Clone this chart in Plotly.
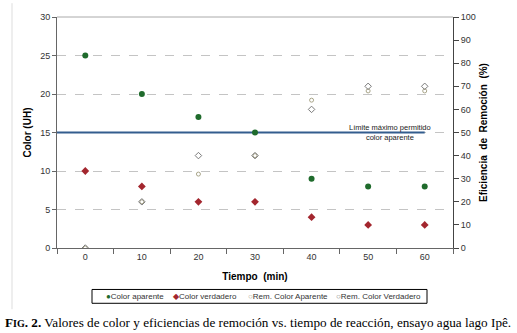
import plotly.graph_objects as go

# ---- data ----
tiempo = [0, 10, 20, 30, 40, 50, 60]
color_aparente = [25, 20, 17, 15, 9, 8, 8]
color_verdadero = [10, 8, 6, 6, 4, 3, 3]
rem_color_aparente = [0, 20, 32, 40, 64, 68, 68]
rem_color_verdadero = [0, 20, 40, 40, 60, 70, 70]
limite_x = [-5, 60]
limite_y = [15, 15]
x_ticks = [0, 10, 20, 30, 40, 50, 60]
y_ticks = [0, 5, 10, 15, 20, 25, 30]
y2_ticks = [0, 10, 20, 30, 40, 50, 60, 70, 80, 90, 100]

W, H = 517, 333
L, R, T, B = 57, 453, 14, 248


def px(x):
    return (x - L) / (R - L)


def py(y):
    return (B - y) / (B - T)


GREEN = "#1f6b2c"
RED = "#a3262e"
BLUE = "#335d8e"

fig = go.Figure()
fig.add_trace(go.Scatter(x=limite_x, y=limite_y, mode="lines",
                         line=dict(color=BLUE, width=2), showlegend=False,
                         hoverinfo="skip"))
fig.add_trace(go.Scatter(x=tiempo, y=color_aparente, mode="markers", name="Color aparente",
                         marker=dict(symbol="circle", size=6, color=GREEN)))
fig.add_trace(go.Scatter(x=tiempo, y=color_verdadero, mode="markers", name="Color verdadero",
                         marker=dict(symbol="diamond", size=6, color=RED)))
fig.add_trace(go.Scatter(x=tiempo, y=rem_color_aparente, mode="markers", name="Rem. Color Aparente",
                         yaxis="y2",
                         marker=dict(symbol="circle-open", size=4, color="#a8a488",
                                     line=dict(width=1))))
fig.add_trace(go.Scatter(x=tiempo, y=rem_color_verdadero, mode="markers", name="Rem. Color Verdadero",
                         yaxis="y2",
                         marker=dict(symbol="diamond-open", size=5, color="#7a7a7a",
                                     line=dict(width=1))))

tickfont = dict(family="Arial, Liberation Sans, sans-serif", size=9, color="#333")
titlefont = dict(family="Arial, Liberation Sans, sans-serif", size=10, color="#000")

fig.update_layout(
    width=W, height=H,
    margin=dict(l=L, r=W - R, t=T, b=H - B),
    paper_bgcolor="white", plot_bgcolor="white",
    showlegend=False,
    xaxis=dict(range=[-5, 65], tickvals=x_ticks, ticks="", showgrid=False, zeroline=False,
               showline=True, linecolor="#666", linewidth=1, tickfont=tickfont,
               minor=dict(tick0=5, dtick=10, ticks="outside", ticklen=5, tickcolor="#666",
                          showgrid=False),
               title=dict(text="<b>Tiempo  (min)</b>", font=titlefont, standoff=12)),
    yaxis=dict(range=[0, 30], tickvals=y_ticks, ticks="outside", ticklen=4, tickcolor="#666",
               showgrid=True, gridcolor="#c4c4c4", griddash="dash", gridwidth=1,
               zeroline=False, showline=True, linecolor="#666", tickfont=tickfont,
               title=dict(text="<b>Color (UH)</b>", font=titlefont, standoff=6)),
    yaxis2=dict(range=[0, 100], tickvals=y2_ticks, overlaying="y", side="right",
                ticks="outside", ticklen=5, tickcolor="#444", showgrid=False, zeroline=False,
                showline=True, linecolor="#444", tickfont=tickfont,
                title=dict(text="<b>Eficiencia  de  Remoción  (%)</b>", font=titlefont, standoff=5)),
)

# top border of plot area
fig.add_shape(type="line", xref="paper", yref="paper", x0=0, x1=1, y0=1, y1=1,
              line=dict(color="#aaaaaa", width=1))
# chart area left border
fig.add_shape(type="line", xref="paper", yref="paper", x0=px(12), x1=px(12), y0=py(0), y1=py(310),
              line=dict(color="#dddddd", width=1))

# limit label
fig.add_annotation(xref="paper", yref="paper", x=px(390), y=py(131),
                   text="Límite máximo permitido<br>color aparente", showarrow=False,
                   font=dict(family="Arial, Liberation Sans, sans-serif", size=7.5, color="#222"),
                   align="center", xanchor="center", yanchor="middle")

# legend box
fig.add_shape(type="rect", xref="paper", yref="paper", x0=px(92), x1=px(427), y0=py(290), y1=py(304),
              line=dict(color="#000", width=1), fillcolor="white")
legfont = dict(family="Arial, Liberation Sans, sans-serif", size=8, color="#333")
leg_items = [
    (104, f"<span style='color:{GREEN}'>●</span>Color aparente"),
    (171, f"<span style='color:{RED}'>◆</span>Color verdadero"),
    (246, "<span style='color:#a8a488'>○</span>Rem. Color Aparente"),
    (334, "<span style='color:#7a7a7a'>○</span>Rem. Color Verdadero"),
]
for xpos, txt in leg_items:
    fig.add_annotation(xref="paper", yref="paper", x=px(xpos), y=py(297), text=txt,
                       showarrow=False, font=legfont, xanchor="left", yanchor="middle")

# caption
fig.add_annotation(xref="paper", yref="paper", x=px(3), y=py(323),
                   text="<b>F<span style='font-size:10px'>IG</span>. 2.</b> Valores de color y eficiencias de remoción vs. tiempo de reacción, ensayo agua lago Ipê.",
                   showarrow=False, xanchor="left", yanchor="middle",
                   font=dict(family="Liberation Serif, Times New Roman, serif", size=13.2, color="#000"))

fig.write_html("out.html", config={"displayModeBar": False},
               post_script="document.body.style.margin='0';document.body.style.overflow='hidden';")
